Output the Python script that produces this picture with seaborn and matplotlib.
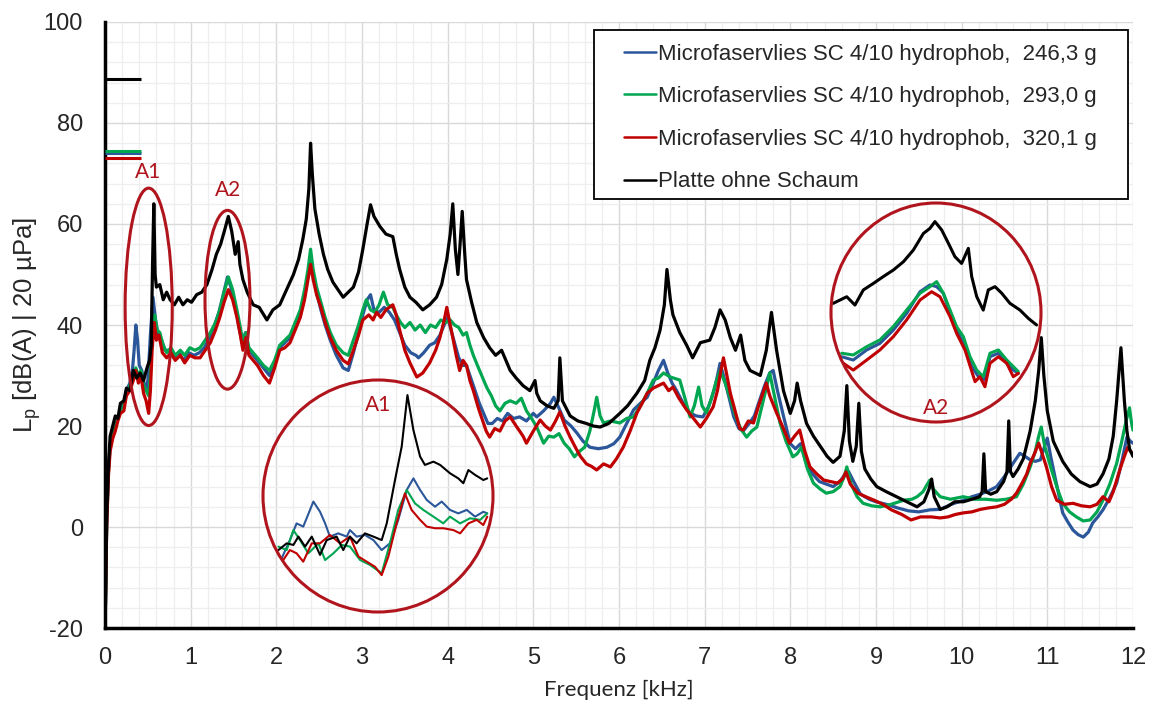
import numpy as np
import pandas as pd
import matplotlib
matplotlib.use("Agg")
import matplotlib.pyplot as plt
from matplotlib.patches import Ellipse, Rectangle
from matplotlib.ticker import MultipleLocator
import seaborn as sns

# ---------------- data ----------------
labels = ["Microfaservlies SC 4/10 hydrophob,  246,3 g",
          "Microfaservlies SC 4/10 hydrophob,  293,0 g",
          "Microfaservlies SC 4/10 hydrophob,  320,1 g",
          "Platte ohne Schaum"]
colors = ["#2B579A", "#00A650", "#C00000", "#000000"]

# overall levels drawn as short bars at top left
overall_level = [74.0, 74.5, 73.1, 88.7]
overall_fmax = 0.42

f_blue = [0.003, 0.02, 0.04, 0.06, 0.09, 0.12, 0.15, 0.18, 0.22, 0.25,
          0.29, 0.32, 0.34, 0.36, 0.38, 0.40, 0.43, 0.45, 0.48, 0.50,
          0.53, 0.56, 0.59, 0.62, 0.66, 0.70, 0.75, 0.80, 0.86, 0.92,
          0.98, 1.04, 1.10, 1.16, 1.22, 1.28, 1.33, 1.38, 1.43, 1.47,
          1.52, 1.56, 1.60, 1.64, 1.68, 1.73, 1.78, 1.85, 1.92, 1.98,
          2.04, 2.10, 2.16, 2.22, 2.28, 2.33, 2.37, 2.40, 2.43, 2.47,
          2.52, 2.57, 2.63, 2.70, 2.78, 2.84, 2.90, 2.96, 3.01, 3.06,
          3.10, 3.14, 3.20, 3.26, 3.32, 3.38, 3.44, 3.50, 3.57, 3.63,
          3.66, 3.72, 3.79, 3.85, 3.91, 3.96, 4.00, 4.04, 4.08, 4.13,
          4.18, 4.22, 4.27, 4.32, 4.37, 4.42, 4.47, 4.52, 4.58, 4.64,
          4.70, 4.77, 4.84, 4.92, 5.00, 5.04, 5.12, 5.20, 5.24, 5.30,
          5.36, 5.44, 5.51, 5.58, 5.66, 5.76, 5.86, 5.94, 6.01, 6.09,
          6.17, 6.25, 6.33, 6.40, 6.46, 6.52, 6.57, 6.62, 6.67, 6.75,
          6.83, 6.90, 6.98, 7.05, 7.11, 7.15, 7.18, 7.22, 7.28, 7.34,
          7.40, 7.45, 7.52, 7.58, 7.64, 7.70, 7.76, 7.80, 7.85, 7.92,
          8.00, 8.06, 8.12, 8.18, 8.26, 8.34, 8.42, 8.50, 8.58, 8.64,
          8.68, 8.74, 8.82, 8.92, 9.00, 9.12, 9.25, 9.38, 9.50, 9.63,
          9.75, 9.88, 10.02, 10.12, 10.22, 10.32, 10.41, 10.50, 10.56, 10.60,
          10.68, 10.74, 10.80, 10.86, 10.92, 10.96, 11.00, 11.04, 11.09, 11.14,
          11.18, 11.24, 11.30, 11.36, 11.42, 11.48, 11.53, 11.59, 11.65, 11.72,
          11.81, 11.87, 11.93, 11.97, 12.00]
lp_blue = [-18, 1, 11, 16.5, 18.5, 20, 21.5, 23, 24.5, 27,
           28.5, 31, 35, 40, 37, 32, 31, 29, 27, 29,
           38, 45.5, 41, 38, 37, 35, 35, 33.5, 34.5, 33,
           34.5, 34, 34.5, 35.5, 37.5, 40, 42.5, 46, 49.5, 47.5,
           44, 40, 36.5, 38.5, 35, 34, 33, 31.5, 30, 32.5,
           35.5, 36.5, 37.5, 40, 42.5, 46, 50, 53.5, 50, 46.5,
           43, 40, 37, 34, 31.5, 31, 34.5, 38.5, 42, 45,
           46, 43, 42.5, 43.5, 42.5, 41, 38.5, 36, 34.5, 34,
           33.5, 34.5, 36, 36.5, 38, 40, 41.5, 39, 36.5, 33.5,
           32, 32, 29.5, 27, 24.5, 22.5, 20.5, 20.5, 21.5, 21,
           22.5, 21.5, 21.8, 21, 22.5, 21.8, 23, 24.5, 25.7, 23.5,
           21.2, 20, 18.6, 17, 15.8, 15.5, 15.8, 16.5, 17.8, 20.5,
           23.2, 24.5, 25.7, 28.5, 31, 33, 30.5, 28.5, 27.1, 24.5,
           22.6, 22, 21.8, 24, 27, 30, 32.4, 30, 26, 21.8,
           19.5, 19, 20.5, 22, 25, 28, 30.5, 31, 27, 22,
           16.5, 15.5, 16.5, 13, 10.5, 9, 8.5, 8, 9, 10.5,
           11, 9, 6.5, 5.5, 5, 4.5, 3.8, 3.2, 3, 3.4,
           3.5, 4.5, 5.3, 6, 6.5, 7.2, 8, 10, 11.5, 12.6,
           14.6, 14, 13.3, 13, 13.3, 15.5, 17.6, 14, 9.9, 6,
           2.8, 1, -0.6, -1.5, -2, -1, 0.8, 2, 3.4, 5.5,
           8.7, 13, 17.8, 17, 16.6]

f_green = [0.003, 0.02, 0.04, 0.06, 0.09, 0.12, 0.15, 0.18, 0.22, 0.25,
           0.29, 0.33, 0.36, 0.39, 0.42, 0.45, 0.48, 0.51, 0.53, 0.55,
           0.58, 0.61, 0.64, 0.68, 0.72, 0.77, 0.82, 0.88, 0.93, 0.99,
           1.05, 1.11, 1.17, 1.23, 1.29, 1.34, 1.39, 1.44, 1.49, 1.54,
           1.58, 1.61, 1.645, 1.68, 1.73, 1.78, 1.85, 1.92, 1.98, 2.04,
           2.10, 2.16, 2.22, 2.28, 2.33, 2.37, 2.40, 2.43, 2.47, 2.52,
           2.57, 2.63, 2.70, 2.78, 2.84, 2.90, 2.96, 3.01, 3.05, 3.10,
           3.15, 3.20, 3.25, 3.30, 3.36, 3.40, 3.45, 3.50, 3.56, 3.62,
           3.68, 3.74, 3.80, 3.86, 3.92, 3.98, 4.03, 4.08, 4.13, 4.18,
           4.22, 4.26, 4.30, 4.36, 4.41, 4.46, 4.51, 4.56, 4.61, 4.67,
           4.73, 4.80, 4.86, 4.92, 4.98, 5.04, 5.12, 5.18, 5.24, 5.30,
           5.36, 5.42, 5.48, 5.54, 5.60, 5.66, 5.71, 5.74, 5.78, 5.82,
           5.90, 6.01, 6.09, 6.17, 6.25, 6.33, 6.40, 6.46, 6.52, 6.60,
           6.71, 6.77, 6.83, 6.88, 6.93, 6.97, 7.02, 7.08, 7.13, 7.18,
           7.24, 7.30, 7.36, 7.42, 7.49, 7.55, 7.61, 7.67, 7.72, 7.76,
           7.82, 7.88, 7.95, 8.03, 8.08, 8.13, 8.20, 8.27, 8.35, 8.42,
           8.50, 8.58, 8.63, 8.66, 8.71, 8.78, 8.85, 8.95, 9.05, 9.18,
           9.32, 9.42, 9.48, 9.55, 9.60, 9.63, 9.67, 9.75, 9.87, 10.02,
           10.15, 10.28, 10.41, 10.52, 10.64, 10.72, 10.80, 10.86, 10.90, 10.93,
           10.97, 11.05, 11.12, 11.18, 11.26, 11.34, 11.42, 11.50, 11.58, 11.65,
           11.73, 11.81, 11.87, 11.92, 11.96, 11.98, 12.00]
lp_green = [-18, 1, 11, 16, 18, 19.5, 21.5, 23, 24, 26.5,
            28, 29.5, 31.5, 30, 31, 28, 27, 26, 30, 38,
            42, 39, 38.5, 36, 34.5, 35.5, 34, 35, 34, 35.5,
            35, 35.5, 37, 38.5, 40.5, 43, 46.5, 49.5, 47, 43,
            39.5, 36.5, 38.5, 35.5, 34.5, 33.5, 32, 31, 33, 36,
            37, 38, 40.5, 43, 47, 51, 55, 51, 47.5, 44.5,
            41.5, 38.5, 36, 34.5, 34, 37, 40, 43, 45, 43,
            42.5, 44, 46.5, 44, 43.5, 42, 40.5, 39.5, 40.5, 39,
            40, 38.5, 40, 39.5, 41, 40.5, 41, 40, 39.5, 38,
            38.5, 36, 34, 31.5, 29.5, 27.5, 26, 24, 23, 24.5,
            25, 24.5, 25.5, 23, 21.5, 19.8, 16.6, 18, 17.8, 18.5,
            16.6, 15.5, 13.9, 15, 15.8, 19, 23, 25.7, 22, 20.6,
            21, 20.6, 21.5, 21.8, 24, 26.5, 29.1, 29.5, 30.5, 29.7,
            29.1, 25.5, 21.8, 24, 27.7, 24, 22.6, 25.5, 28.5, 31,
            28.5, 25.5, 22, 19.5, 17.8, 19, 19.8, 24, 27.5, 30.5,
            25.5, 20.6, 17, 13.9, 14.5, 15.8, 11.5, 8.7, 7.5, 6.7,
            7, 8, 10, 11.9, 8.5, 6, 4.7, 4.2, 4, 4.5,
            5.3, 5.5, 6, 7, 8.5, 9.3, 7.5, 6, 5.5, 6,
            5.5, 5.5, 5.3, 5.5, 6, 8.5, 11.9, 15, 18, 19.8,
            16, 11.3, 7.5, 4.7, 3, 2, 1.2, 1.4, 3, 5.3,
            8.5, 12.6, 17, 21, 23.6, 21, 19.2]

f_red = [0.003, 0.02, 0.04, 0.06, 0.09, 0.12, 0.15, 0.18, 0.22, 0.25,
         0.29, 0.33, 0.36, 0.39, 0.42, 0.45, 0.48, 0.51, 0.53, 0.55,
         0.575, 0.60, 0.63, 0.67, 0.72, 0.77, 0.82, 0.88, 0.93, 0.99,
         1.05, 1.11, 1.17, 1.23, 1.29, 1.34, 1.39, 1.44, 1.49, 1.54,
         1.58, 1.61, 1.645, 1.68, 1.73, 1.78, 1.85, 1.92, 1.98, 2.04,
         2.10, 2.16, 2.22, 2.28, 2.33, 2.37, 2.40, 2.43, 2.47, 2.52,
         2.57, 2.63, 2.70, 2.78, 2.84, 2.90, 2.96, 3.01, 3.08, 3.13,
         3.17, 3.22, 3.28, 3.36, 3.40, 3.44, 3.50, 3.56, 3.64, 3.71,
         3.79, 3.86, 3.91, 3.96, 3.99, 4.03, 4.06, 4.10, 4.14, 4.18,
         4.22, 4.26, 4.30, 4.36, 4.41, 4.45, 4.49, 4.55, 4.61, 4.67,
         4.73, 4.80, 4.88, 4.92, 5.00, 5.08, 5.14, 5.20, 5.26, 5.31,
         5.37, 5.43, 5.50, 5.55, 5.62, 5.68, 5.74, 5.82, 5.90, 5.97,
         6.05, 6.13, 6.21, 6.27, 6.33, 6.40, 6.46, 6.52, 6.58, 6.63,
         6.70, 6.79, 6.87, 6.95, 7.02, 7.10, 7.15, 7.19, 7.22, 7.26,
         7.30, 7.34, 7.41, 7.45, 7.51, 7.57, 7.63, 7.68, 7.72, 7.76,
         7.84, 7.92, 7.99, 8.05, 8.11, 8.17, 8.23, 8.31, 8.39, 8.47,
         8.55, 8.61, 8.65, 8.70, 8.79, 8.88, 8.98, 9.08, 9.18, 9.30,
         9.41, 9.52, 9.65, 9.75, 9.84, 9.93, 10.02, 10.12, 10.22, 10.32,
         10.41, 10.50, 10.58, 10.64, 10.70, 10.76, 10.80, 10.85, 10.90, 10.94,
         10.99, 11.05, 11.11, 11.20, 11.30, 11.40, 11.50, 11.58, 11.65, 11.72,
         11.77, 11.81, 11.86, 11.90, 11.94, 11.97, 12.00]
lp_red = [-18, 0, 10, 15, 17.5, 19, 21, 22.5, 23, 26,
          27, 29, 31, 28.5, 30, 26.5, 25, 22.5, 27, 35,
          40.5, 37, 38, 34.5, 33.5, 34.5, 33, 34, 32.5, 34,
          33.5, 33.5, 35, 36.5, 39, 41.5, 44.5, 47, 45, 41.5,
          38, 35, 37.5, 34, 33, 32, 30, 28.5, 31.5, 35,
          35.5, 36.5, 39, 41.5, 45, 49, 52, 49, 46, 43.5,
          40.5, 37.5, 35, 33, 32.3, 35, 38, 41, 42, 41,
          42.5, 41.5, 43, 44, 42, 39, 35, 32.5, 29.7, 30.5,
          32.5, 35, 37.5, 41, 43.5, 40, 37.5, 34, 31, 33,
          32, 29, 27, 23.5, 21, 19, 17.8, 19.5, 19, 21,
          21.8, 20, 18, 16.6, 19, 21.2, 20, 19.2, 21, 22.8,
          20, 17.8, 15.5, 14, 12.5, 12, 11.3, 12.5, 11.9, 13.5,
          15.8, 19, 22.6, 24.5, 26.5, 27.5, 28, 28.5, 27, 27.7,
          25.5, 23.2, 21.5, 19.8, 21.5, 23.8, 27, 31, 33.5, 30,
          26.5, 24, 19.5, 19.2, 21, 20.6, 24, 26.5, 28.5, 26,
          22.6, 19.5, 16.6, 18, 19.2, 15, 11.9, 10.5, 9.3, 9,
          8.7, 9.5, 10.9, 8.5, 6.7, 6, 5.3, 4.5, 3.4, 2.5,
          1.4, 2, 2, 1.8, 2, 2.5, 2.8, 3, 3.5, 3.8,
          4, 4.5, 5.5, 6.7, 8.5, 10.5, 12.6, 14.5, 16.6, 14.5,
          11.9, 8, 5.3, 4.5, 4.7, 4.2, 4, 4.5, 6, 5,
          7, 9.3, 12, 14, 15.8, 15, 14.6]

f_black = [0.003, 0.02, 0.04, 0.06, 0.09, 0.12, 0.15, 0.18, 0.22, 0.25,
           0.29, 0.33, 0.37, 0.41, 0.45, 0.49, 0.52, 0.54, 0.555, 0.57,
           0.585, 0.60, 0.64, 0.68, 0.72, 0.76, 0.81, 0.86, 0.91, 0.96,
           1.01, 1.07, 1.13, 1.19, 1.25, 1.30, 1.35, 1.40, 1.44, 1.48,
           1.52, 1.555, 1.575, 1.61, 1.66, 1.73, 1.80, 1.89, 1.96, 2.04,
           2.12, 2.20, 2.26, 2.31, 2.35, 2.38, 2.40, 2.42, 2.45, 2.50,
           2.55, 2.60, 2.66, 2.72, 2.78, 2.84, 2.90, 2.96, 3.01, 3.06,
           3.10, 3.14, 3.21, 3.28, 3.36, 3.40, 3.44, 3.50, 3.56, 3.63,
           3.71, 3.79, 3.87, 3.93, 3.99, 4.03, 4.06, 4.09, 4.12, 4.145,
           4.17, 4.20, 4.22, 4.28, 4.34, 4.42, 4.49, 4.56, 4.63, 4.68,
           4.73, 4.80, 4.88, 4.96, 5.02, 5.04, 5.08, 5.16, 5.24, 5.29,
           5.31, 5.34, 5.43, 5.52, 5.62, 5.70, 5.78, 5.88, 6.01, 6.10,
           6.21, 6.30, 6.36, 6.42, 6.48, 6.53, 6.56, 6.60, 6.63, 6.71,
           6.79, 6.86, 6.95, 7.06, 7.12, 7.18, 7.24, 7.30, 7.36, 7.42,
           7.47, 7.53, 7.59, 7.65, 7.72, 7.78, 7.84, 7.92, 8.00, 8.05,
           8.08, 8.12, 8.19, 8.27, 8.35, 8.43, 8.50, 8.58, 8.63, 8.66,
           8.69, 8.73, 8.77, 8.80, 8.83, 8.87, 8.94, 9.01, 9.12, 9.24,
           9.36, 9.48, 9.56, 9.62, 9.65, 9.68, 9.75, 9.83, 9.92, 10.02,
           10.12, 10.21, 10.24, 10.26, 10.28, 10.34, 10.41, 10.49, 10.53, 10.55,
           10.57, 10.60, 10.66, 10.72, 10.80, 10.86, 10.90, 10.93, 10.96, 11.00,
           11.07, 11.18, 11.28, 11.38, 11.50, 11.58, 11.65, 11.72, 11.77, 11.81,
           11.86, 11.90, 11.93, 11.96, 12.00]
lp_black = [-18, 2, 12, 18, 20, 22, 21.5, 24.5, 25, 27.5,
            27, 31, 29.5, 30.5, 29, 31.5, 33, 36, 52, 64,
            50, 47.5, 48, 45, 46.5, 45, 44, 45.5, 44, 45,
            44.5, 46, 46.5, 48, 51, 54, 56, 59, 61.5, 58.5,
            54, 56.5, 52, 49, 46.5, 44, 43.5, 41, 43, 44,
            47, 50, 53, 57, 61, 67, 76, 70, 63, 58,
            54, 51, 48.5, 47, 45.5, 46.5, 47.5, 50.5, 55, 60,
            63.8, 61.5, 59.5, 58, 57.5, 54, 51, 47.5, 45.5, 44.5,
            43, 44, 45.5, 48, 53, 58, 64, 55, 50, 56,
            62.5, 54, 49, 44.5, 40.5, 37.5, 35.5, 34, 35, 33,
            31, 29.5, 28, 27, 29, 26.5, 25, 24, 23.5, 25,
            33.5, 25, 22, 21, 20.5, 20, 19.8, 20.5, 22.5, 24,
            26.5, 29, 33, 35.5, 39, 44, 51, 45, 42, 38.5,
            36, 33.5, 36.5, 37, 39.5, 43, 41, 37.5, 35, 38,
            33, 31, 30.5, 30, 35, 42.5, 35, 27, 22.5, 25,
            28.5, 25, 20.5, 18, 16, 14, 12.8, 14, 19, 28,
            17, 13, 16, 24.5, 15, 11.5, 9.5, 8, 7, 6,
            5, 4, 5, 7.5, 9.5, 6, 3.5, 4, 5, 5,
            5.5, 6, 7, 14.5, 7, 6.5, 7, 9, 11, 21,
            11, 10, 11.5, 13.5, 19, 25, 31, 37.5, 30, 23,
            17, 13, 10.5, 9, 8, 8.5, 10.5, 13.5, 18, 25,
            35.5, 25, 19, 15.5, 14]

# ---- zoomed detail A1 (inset coordinates 0..1) ----
a1_u_blue = [0.081, 0.117, 0.146, 0.175, 0.219, 0.248, 0.270, 0.291, 0.327, 0.364,
             0.378, 0.407, 0.443, 0.480, 0.516, 0.552, 0.588, 0.625, 0.654, 0.683,
             0.712, 0.748, 0.777, 0.813, 0.849, 0.886, 0.922, 0.958, 0.975]
a1_v_blue = [0.231, 0.310, 0.382, 0.368, 0.476, 0.432, 0.382, 0.325, 0.339, 0.325,
             0.353, 0.325, 0.332, 0.310, 0.267, 0.296, 0.397, 0.526, 0.576, 0.526,
             0.483, 0.454, 0.476, 0.440, 0.425, 0.440, 0.411, 0.432, 0.425]
a1_u_green = [0.067, 0.103, 0.132, 0.161, 0.197, 0.241, 0.270, 0.306, 0.343, 0.378,
              0.422, 0.465, 0.516, 0.552, 0.588, 0.625, 0.661, 0.697, 0.741, 0.784,
              0.813, 0.857, 0.900, 0.944, 0.975]
a1_v_green = [0.282, 0.267, 0.353, 0.310, 0.253, 0.296, 0.224, 0.253, 0.289, 0.282,
              0.224, 0.203, 0.167, 0.296, 0.440, 0.526, 0.468, 0.440, 0.411, 0.382,
              0.411, 0.382, 0.404, 0.397, 0.425]
a1_u_red = [0.088, 0.117, 0.146, 0.175, 0.212, 0.248, 0.291, 0.335, 0.378, 0.415,
            0.451, 0.487, 0.516, 0.545, 0.581, 0.617, 0.646, 0.683, 0.712, 0.748,
            0.784, 0.828, 0.857, 0.893, 0.929, 0.958, 0.975]
a1_v_red = [0.224, 0.267, 0.253, 0.217, 0.296, 0.296, 0.332, 0.296, 0.325, 0.239,
            0.217, 0.195, 0.159, 0.239, 0.382, 0.511, 0.440, 0.397, 0.368, 0.361,
            0.361, 0.353, 0.339, 0.382, 0.397, 0.375, 0.411]
a1_u_black = [0.067, 0.103, 0.132, 0.154, 0.183, 0.212, 0.248, 0.277, 0.320, 0.349,
              0.378, 0.407, 0.443, 0.480, 0.516, 0.538, 0.574, 0.603, 0.628, 0.654,
              0.683, 0.704, 0.741, 0.770, 0.813, 0.849, 0.871, 0.893, 0.922, 0.958,
              0.975]
a1_v_black = [0.267, 0.296, 0.289, 0.325, 0.282, 0.325, 0.246, 0.310, 0.325, 0.267,
              0.325, 0.296, 0.339, 0.325, 0.310, 0.382, 0.569, 0.713, 0.935, 0.784,
              0.670, 0.634, 0.648, 0.634, 0.598, 0.576, 0.555, 0.612, 0.591, 0.569,
              0.576]

# ---- zoomed detail A2 (inset coordinates 0..1) ----
a2_u_blue = [0.051, 0.106, 0.170, 0.233, 0.297, 0.360, 0.424, 0.471, 0.503, 0.535,
             0.567, 0.598, 0.630, 0.670, 0.702, 0.733, 0.757, 0.797, 0.837, 0.868,
             0.892]
a2_v_blue = [0.298, 0.283, 0.329, 0.359, 0.420, 0.496, 0.595, 0.626, 0.618, 0.588,
             0.496, 0.420, 0.359, 0.253, 0.207, 0.192, 0.298, 0.314, 0.268, 0.237,
             0.222]
a2_u_green = [0.051, 0.106, 0.170, 0.233, 0.297, 0.360, 0.424, 0.471, 0.503, 0.535,
              0.567, 0.598, 0.630, 0.662, 0.694, 0.725, 0.757, 0.797, 0.837, 0.868,
              0.892]
a2_v_green = [0.314, 0.306, 0.344, 0.375, 0.436, 0.511, 0.588, 0.618, 0.641, 0.588,
              0.511, 0.436, 0.390, 0.298, 0.237, 0.207, 0.314, 0.329, 0.283, 0.253,
              0.230]
a2_u_red = [0.059, 0.106, 0.170, 0.233, 0.297, 0.360, 0.424, 0.479, 0.519, 0.567,
            0.598, 0.638, 0.686, 0.709, 0.733, 0.757, 0.797, 0.837, 0.868, 0.892]
a2_v_red = [0.268, 0.237, 0.283, 0.329, 0.390, 0.466, 0.557, 0.595, 0.572, 0.481,
            0.405, 0.329, 0.184, 0.207, 0.161, 0.268, 0.298, 0.268, 0.207, 0.222]
a2_u_black = [0.011, 0.075, 0.114, 0.154, 0.202, 0.249, 0.297, 0.345, 0.392, 0.440,
              0.471, 0.495, 0.527, 0.559, 0.590, 0.622, 0.654, 0.670, 0.694, 0.725,
              0.749, 0.781, 0.813, 0.852, 0.900, 0.940, 0.979]
a2_v_black = [0.542, 0.572, 0.534, 0.603, 0.633, 0.664, 0.694, 0.732, 0.785, 0.861,
              0.884, 0.915, 0.877, 0.816, 0.755, 0.724, 0.793, 0.664, 0.572, 0.511,
              0.603, 0.618, 0.588, 0.542, 0.511, 0.473, 0.443]

# ---------------- styling ----------------
sns.set_style("white")
plt.rcParams['font.family'] = ['Liberation Sans', 'DejaVu Sans']
plt.rcParams['mathtext.default'] = 'regular'
plt.rcParams['axes.unicode_minus'] = False
ring_color = "#B0141C"

fig = plt.figure(figsize=(11.55, 7.09), dpi=100)
ax = fig.add_axes([0.0909, 0.1142, 0.8900, 0.8548])

main = [(f_blue, lp_blue), (f_green, lp_green), (f_red, lp_red), (f_black, lp_black)]
for (f, lp), lab, col in zip(main, labels, colors):
    df = pd.DataFrame({"Frequenz": f, "Lp": lp})
    sns.lineplot(data=df, x="Frequenz", y="Lp", ax=ax, color=col, lw=2.3,
                 label=lab, estimator=None, sort=False)

ax.hlines(overall_level, 0, overall_fmax, colors=colors, lw=2.2, zorder=3)

ax.set_xlim(0, 12)
ax.set_ylim(-20, 100)
ax.xaxis.set_major_locator(MultipleLocator(1))
ax.xaxis.set_minor_locator(MultipleLocator(0.2))
ax.yaxis.set_major_locator(MultipleLocator(20))
ax.yaxis.set_minor_locator(MultipleLocator(4))
ax.grid(which='major', color='#D9D9D9', lw=1.0)
ax.grid(which='minor', color='#EEEEEE', lw=0.9)
ax.set_axisbelow(True)
ax.tick_params(which='both', length=0, labelsize=17)
ax.tick_params(axis='x', pad=14)
ax.tick_params(axis='y', pad=16)
for s in ['top', 'right']:
    ax.spines[s].set_visible(False)
for s in ['left', 'bottom']:
    ax.spines[s].set_color('black')
    ax.spines[s].set_linewidth(2.5)

ax.set_xlabel("Frequenz [kHz]", fontsize=16, family=['Lato', 'DejaVu Sans'])
ax.set_ylabel("L$_p$ [dB(A) | 20 µPa]", fontsize=18.5)
ax.xaxis.set_label_coords(0.5, -0.085)
ax.yaxis.set_label_coords(-0.060, 0.5)

# highlighted regions
ax.add_patch(Ellipse((0.51, 43.6), 0.55, 47, fill=False, ec=ring_color, lw=2.2, zorder=4))
ax.add_patch(Ellipse((1.43, 45.0), 0.525, 35.4, fill=False, ec=ring_color, lw=2.2, zorder=4))
ax.text(0.50, 70.3, "A1", color=ring_color, fontsize=15, ha='center', va='center',
        family=['Lato', 'DejaVu Sans'])
ax.text(1.44, 66.7, "A2", color=ring_color, fontsize=15, ha='center', va='center',
        family=['Lato', 'DejaVu Sans'])

# legend: frame drawn as a separate box (wider than its content, as in the original)
ax.add_patch(Rectangle((0.4757, 0.7079), 0.5194, 0.2789, transform=ax.transAxes,
                       facecolor='white', edgecolor='black', lw=1.3, zorder=4.8,
                       clip_on=False))
leg = ax.legend(loc='upper left', bbox_to_anchor=(0.4757, 0.980), borderaxespad=0,
                frameon=False, fontsize=16, handlelength=2.34, handletextpad=0.12,
                labelspacing=0.97, borderpad=0.43)
leg.set_zorder(5)
for ln in leg.get_lines():
    xd = np.asarray(ln.get_xdata(), dtype=float)
    yd = np.asarray(ln.get_ydata(), dtype=float)
    x0, x1 = xd.min(), xd.max()
    ln.set_data([x1 - 0.615 * (x1 - x0), x1], [yd[0], yd[0]])
    ln.set_linewidth(1.8)


def make_inset(rect, curves, lw, text, text_pos):
    iax = fig.add_axes(rect)
    iax.set_xlim(0, 1)
    iax.set_ylim(0, 1)
    iax.axis('off')
    iax.patch.set_alpha(0)
    ring = Ellipse((0.5, 0.5), 1, 1, transform=iax.transAxes, fill=False,
                   ec=ring_color, lw=2.2, clip_on=False, zorder=5)
    iax.add_patch(ring)
    for u, v, col in curves:
        sns.lineplot(x=u, y=v, ax=iax, color=col, lw=lw, estimator=None,
                     sort=False, legend=False)
    for line in iax.lines:
        line.set_clip_path(ring)
    iax.text(text_pos[0], text_pos[1], text, color=ring_color, fontsize=15,
             ha='center', va='center', transform=iax.transAxes,
             family=['Lato', 'DejaVu Sans'])
    return iax


make_inset([263 / 1155, 1 - 612 / 709, 230 / 1155, 232 / 709],
           [(a1_u_blue, a1_v_blue, colors[0]), (a1_u_green, a1_v_green, colors[1]),
            (a1_u_red, a1_v_red, colors[2]), (a1_u_black, a1_v_black, colors[3])],
           1.5, "A1", (0.5, 0.892))
make_inset([831 / 1155, 1 - 422 / 709, 210 / 1155, 219 / 709],
           [(a2_u_blue, a2_v_blue, colors[0]), (a2_u_green, a2_v_green, colors[1]),
            (a2_u_red, a2_v_red, colors[2]), (a2_u_black, a2_v_black, colors[3])],
           2.2, "A2", (0.5, 0.064))

fig.savefig("out.png", dpi=100)
